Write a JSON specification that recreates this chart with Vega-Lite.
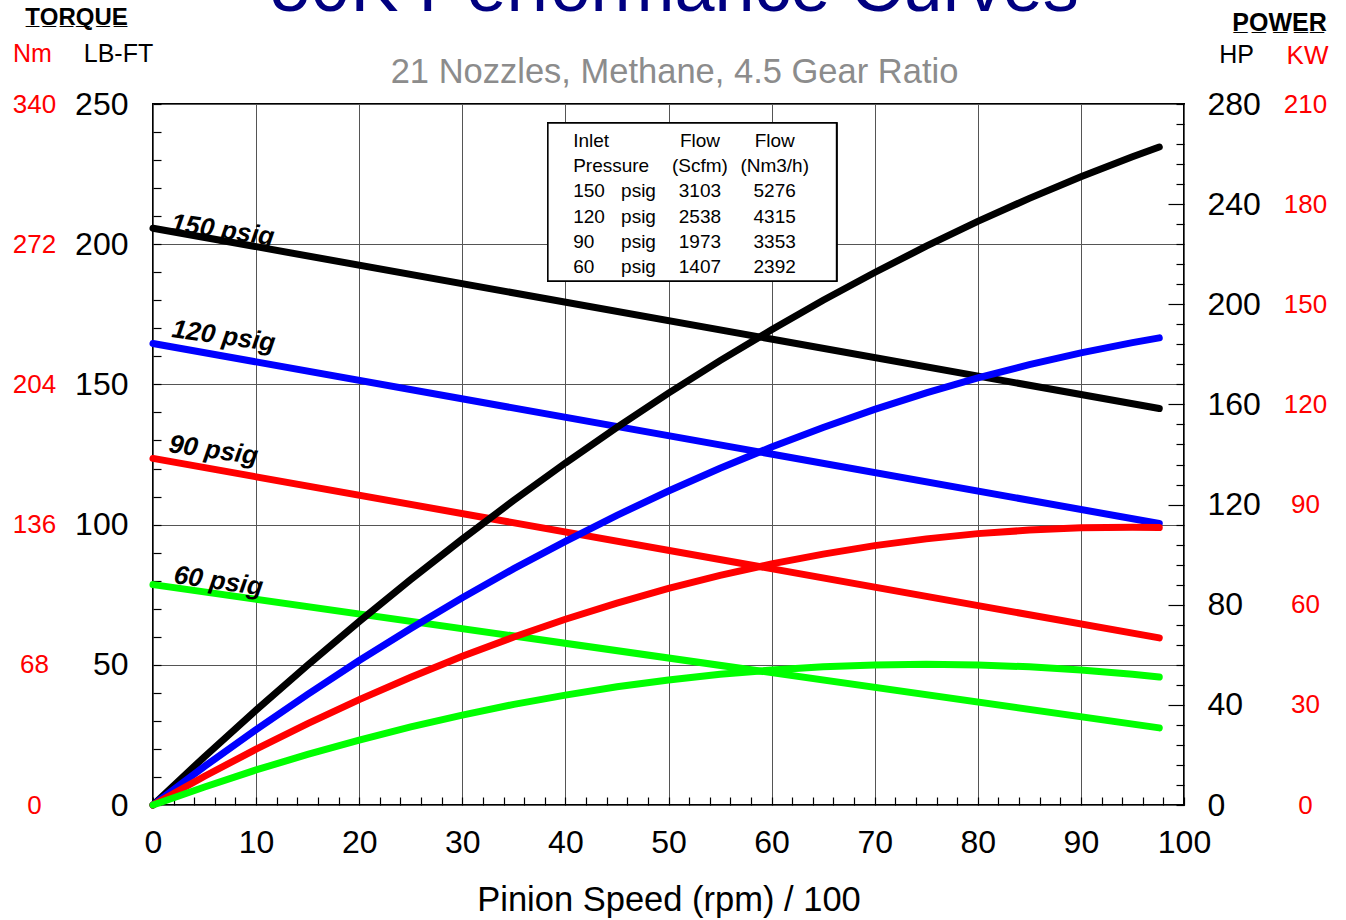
{
  "$schema": "https://vega.github.io/schema/vega-lite/v6.json",
  "width": 1031,
  "height": 701,
  "autosize": {"type": "none"},
  "padding": {"left": 153, "top": 104, "right": 162, "bottom": 115},
  "background": "white",
  "config": {
    "view": {"stroke": "black", "strokeWidth": 2},
    "font": "Liberation Sans",
    "axis": {"labelFont": "Liberation Sans", "titleFont": "Liberation Sans", "labelColor": "black", "titleColor": "black", "titleFontWeight": "normal"}
  },
  "title": {
    "text": "50K Performance Curves",
    "subtitle": "21 Nozzles, Methane, 4.5 Gear Ratio",
    "anchor": "middle",
    "font": "Liberation Sans",
    "fontSize": 72,
    "fontWeight": "normal",
    "color": "#000080",
    "subtitleFont": "Liberation Sans",
    "subtitleFontSize": 34.5,
    "subtitleColor": "#8c8c8c",
    "subtitlePadding": 30,
    "offset": 0,
    "dy": 85,
    "dx": 6
  },
  "datasets": {
    "frame": [{"x": 0, "y": 0}],
    "curves": [
      {"kind": "torque", "psig": "150", "x": 0, "v": 205.7},
      {"kind": "torque", "psig": "150", "x": 97.6, "v": 141.4},
      {"kind": "torque", "psig": "120", "x": 0, "v": 164.6},
      {"kind": "torque", "psig": "120", "x": 97.6, "v": 100.4},
      {"kind": "torque", "psig": "90", "x": 0, "v": 123.6},
      {"kind": "torque", "psig": "90", "x": 97.6, "v": 59.6},
      {"kind": "torque", "psig": "60", "x": 0, "v": 78.6},
      {"kind": "torque", "psig": "60", "x": 97.6, "v": 27.5},
      {"kind": "label", "psig": "150", "x": 1.65, "v": 204.7, "text": "150 psig"},
      {"kind": "label", "psig": "120", "x": 1.75, "v": 166.9, "text": "120 psig"},
      {"kind": "label", "psig": "90", "x": 1.45, "v": 125.9, "text": "90 psig"},
      {"kind": "label", "psig": "60", "x": 1.94, "v": 79.2, "text": "60 psig"},
      {"kind": "power", "psig": "150", "x": 0, "v": 0},
      {"kind": "power", "psig": "150", "x": 5, "v": 19.3},
      {"kind": "power", "psig": "150", "x": 10, "v": 37.9},
      {"kind": "power", "psig": "150", "x": 15, "v": 55.9},
      {"kind": "power", "psig": "150", "x": 20, "v": 73.3},
      {"kind": "power", "psig": "150", "x": 25, "v": 90.1},
      {"kind": "power", "psig": "150", "x": 30, "v": 106.2},
      {"kind": "power", "psig": "150", "x": 35, "v": 121.7},
      {"kind": "power", "psig": "150", "x": 40, "v": 136.6},
      {"kind": "power", "psig": "150", "x": 45, "v": 150.8},
      {"kind": "power", "psig": "150", "x": 50, "v": 164.5},
      {"kind": "power", "psig": "150", "x": 55, "v": 177.5},
      {"kind": "power", "psig": "150", "x": 60, "v": 189.8},
      {"kind": "power", "psig": "150", "x": 65, "v": 201.6},
      {"kind": "power", "psig": "150", "x": 70, "v": 212.7},
      {"kind": "power", "psig": "150", "x": 75, "v": 223.2},
      {"kind": "power", "psig": "150", "x": 80, "v": 233.1},
      {"kind": "power", "psig": "150", "x": 85, "v": 242.3},
      {"kind": "power", "psig": "150", "x": 90, "v": 250.9},
      {"kind": "power", "psig": "150", "x": 95, "v": 258.9},
      {"kind": "power", "psig": "150", "x": 97.6, "v": 262.8},
      {"kind": "power", "psig": "120", "x": 0, "v": 0},
      {"kind": "power", "psig": "120", "x": 5, "v": 15.4},
      {"kind": "power", "psig": "120", "x": 10, "v": 30.1},
      {"kind": "power", "psig": "120", "x": 15, "v": 44.2},
      {"kind": "power", "psig": "120", "x": 20, "v": 57.7},
      {"kind": "power", "psig": "120", "x": 25, "v": 70.5},
      {"kind": "power", "psig": "120", "x": 30, "v": 82.8},
      {"kind": "power", "psig": "120", "x": 35, "v": 94.4},
      {"kind": "power", "psig": "120", "x": 40, "v": 105.3},
      {"kind": "power", "psig": "120", "x": 45, "v": 115.7},
      {"kind": "power", "psig": "120", "x": 50, "v": 125.4},
      {"kind": "power", "psig": "120", "x": 55, "v": 134.5},
      {"kind": "power", "psig": "120", "x": 60, "v": 143.0},
      {"kind": "power", "psig": "120", "x": 65, "v": 150.8},
      {"kind": "power", "psig": "120", "x": 70, "v": 158.0},
      {"kind": "power", "psig": "120", "x": 75, "v": 164.6},
      {"kind": "power", "psig": "120", "x": 80, "v": 170.6},
      {"kind": "power", "psig": "120", "x": 85, "v": 175.9},
      {"kind": "power", "psig": "120", "x": 90, "v": 180.6},
      {"kind": "power", "psig": "120", "x": 95, "v": 184.7},
      {"kind": "power", "psig": "120", "x": 97.6, "v": 186.6},
      {"kind": "power", "psig": "90", "x": 0, "v": 0},
      {"kind": "power", "psig": "90", "x": 5, "v": 11.5},
      {"kind": "power", "psig": "90", "x": 10, "v": 22.3},
      {"kind": "power", "psig": "90", "x": 15, "v": 32.5},
      {"kind": "power", "psig": "90", "x": 20, "v": 42.1},
      {"kind": "power", "psig": "90", "x": 25, "v": 51.0},
      {"kind": "power", "psig": "90", "x": 30, "v": 59.4},
      {"kind": "power", "psig": "90", "x": 35, "v": 67.1},
      {"kind": "power", "psig": "90", "x": 40, "v": 74.2},
      {"kind": "power", "psig": "90", "x": 45, "v": 80.6},
      {"kind": "power", "psig": "90", "x": 50, "v": 86.5},
      {"kind": "power", "psig": "90", "x": 55, "v": 91.7},
      {"kind": "power", "psig": "90", "x": 60, "v": 96.3},
      {"kind": "power", "psig": "90", "x": 65, "v": 100.2},
      {"kind": "power", "psig": "90", "x": 70, "v": 103.6},
      {"kind": "power", "psig": "90", "x": 75, "v": 106.3},
      {"kind": "power", "psig": "90", "x": 80, "v": 108.4},
      {"kind": "power", "psig": "90", "x": 85, "v": 109.8},
      {"kind": "power", "psig": "90", "x": 90, "v": 110.7},
      {"kind": "power", "psig": "90", "x": 95, "v": 110.9},
      {"kind": "power", "psig": "90", "x": 97.6, "v": 110.8},
      {"kind": "power", "psig": "60", "x": 0, "v": 0},
      {"kind": "power", "psig": "60", "x": 5, "v": 7.2},
      {"kind": "power", "psig": "60", "x": 10, "v": 14.0},
      {"kind": "power", "psig": "60", "x": 15, "v": 20.2},
      {"kind": "power", "psig": "60", "x": 20, "v": 25.9},
      {"kind": "power", "psig": "60", "x": 25, "v": 31.2},
      {"kind": "power", "psig": "60", "x": 30, "v": 35.9},
      {"kind": "power", "psig": "60", "x": 35, "v": 40.2},
      {"kind": "power", "psig": "60", "x": 40, "v": 43.9},
      {"kind": "power", "psig": "60", "x": 45, "v": 47.2},
      {"kind": "power", "psig": "60", "x": 50, "v": 49.9},
      {"kind": "power", "psig": "60", "x": 55, "v": 52.2},
      {"kind": "power", "psig": "60", "x": 60, "v": 53.9},
      {"kind": "power", "psig": "60", "x": 65, "v": 55.2},
      {"kind": "power", "psig": "60", "x": 70, "v": 55.9},
      {"kind": "power", "psig": "60", "x": 75, "v": 56.2},
      {"kind": "power", "psig": "60", "x": 80, "v": 55.9},
      {"kind": "power", "psig": "60", "x": 85, "v": 55.2},
      {"kind": "power", "psig": "60", "x": 90, "v": 53.9},
      {"kind": "power", "psig": "60", "x": 95, "v": 52.2},
      {"kind": "power", "psig": "60", "x": 97.6, "v": 51.1}
    ],
    "table": [
      {"row": 1, "c1": "Inlet", "c2": "", "c3": "Flow", "c4": "Flow"},
      {"row": 2, "c1": "Pressure", "c2": "", "c3": "(Scfm)", "c4": "(Nm3/h)"},
      {"row": 3, "c1": "\u00a0150", "c2": "psig", "c3": "3103", "c4": "5276"},
      {"row": 4, "c1": "\u00a0120", "c2": "psig", "c3": "2538", "c4": "4315"},
      {"row": 5, "c1": "\u00a090", "c2": "psig", "c3": "1973", "c4": "3353"},
      {"row": 6, "c1": "\u00a060", "c2": "psig", "c3": "1407", "c4": "2392"}
    ]
  },
  "layer": [
    {
      "data": {"name": "curves"},
      "encoding": {
        "x": {
          "field": "x", "type": "quantitative",
          "scale": {"domain": [0, 100], "nice": false, "zero": false},
          "axis": {
            "values": [0, 10, 20, 30, 40, 50, 60, 70, 80, 90, 100],
            "grid": true, "gridColor": "#555555", "gridWidth": 1, "gridOpacity": 1,
            "ticks": false, "domain": false,
            "labelFontSize": 32, "labelPadding": 22, "labelFlush": false, "labelOverlap": false,
            "title": "Pinion Speed (rpm) / 100", "titleFontSize": 34.5, "titlePadding": 25
          }
        },
        "y": {
          "field": "v", "type": "quantitative",
          "scale": {"domain": [0, 250], "nice": false},
          "axis": {
            "values": [0, 50, 100, 150, 200, 250],
            "grid": true, "gridColor": "#555555", "gridWidth": 1, "gridOpacity": 1,
            "ticks": false, "domain": false,
            "labelFontSize": 32, "labelPadding": 25, "labelOverlap": false, "labelFlush": false,
            "title": "LB-FT", "titleAngle": 0, "titleX": -35, "titleY": -43,
            "titleAlign": "center", "titleBaseline": "alphabetic", "titleFontSize": 25
          }
        }
      },
      "layer": [
        {
          "transform": [{"filter": "datum.kind === 'torque'"}],
          "mark": {"type": "line", "strokeWidth": 7, "strokeCap": "round"},
          "encoding": {
            "color": {"field": "psig", "type": "nominal",
              "scale": {"domain": ["150", "120", "90", "60"], "range": ["#000000", "#0000ff", "#ff0000", "#00ff00"]},
              "legend": null}
          }
        },
        {
          "transform": [{"filter": "datum.kind === 'label'"}],
          "mark": {"type": "text", "font": "Liberation Sans", "fontSize": 26, "fontWeight": "bold", "fontStyle": "italic",
            "align": "left", "baseline": "alphabetic", "angle": 8, "color": "black"},
          "encoding": {"text": {"field": "text"}}
        }
      ]
    },
    {
      "data": {"name": "curves"},
      "transform": [{"filter": "datum.kind === 'power'"}],
      "mark": {"type": "line", "strokeWidth": 7, "strokeCap": "round"},
      "encoding": {
        "x": {
          "field": "x", "type": "quantitative",
          "scale": {"domain": [0, 100], "nice": false, "zero": false},
          "axis": {
            "orient": "bottom",
            "values": [0, 2, 4, 6, 8, 10, 12, 14, 16, 18, 20, 22, 24, 26, 28, 30, 32, 34, 36, 38, 40, 42, 44, 46, 48, 50, 52, 54, 56, 58, 60, 62, 64, 66, 68, 70, 72, 74, 76, 78, 80, 82, 84, 86, 88, 90, 92, 94, 96, 98, 100],
            "tickSize": -8, "tickColor": "black", "tickWidth": 1.2,
            "labels": false, "domain": false, "grid": false, "title": null
          }
        },
        "y": {
          "field": "v", "type": "quantitative",
          "scale": {"domain": [0, 280], "nice": false},
          "axis": {
            "orient": "right",
            "values": [0, 40, 80, 120, 160, 200, 240, 280],
            "ticks": false, "domain": false, "grid": false,
            "labelFontSize": 32, "labelPadding": 23, "labelAlign": "left", "labelOverlap": false, "labelFlush": false,
            "title": "HP", "titleAngle": 0, "titleX": 52, "titleY": -42,
            "titleAlign": "center", "titleBaseline": "alphabetic", "titleFontSize": 25
          }
        },
        "color": {"field": "psig", "type": "nominal", "legend": null}
      }
    },
    {
      "data": {"name": "table"},
      "encoding": {
        "y": {"field": "row", "type": "quantitative", "scale": {"domain": [-0.7, 27.1], "nice": false, "zero": false, "reverse": true}, "axis": null}
      },
      "layer": [
        {
          "mark": {"type": "rect", "fill": "white", "stroke": "black", "strokeWidth": 1.5},
          "encoding": {
            "x": {"datum": 38.3, "type": "quantitative", "scale": {"domain": [0, 100], "nice": false, "zero": false}, "axis": null},
            "x2": {"datum": 66.3},
            "y": {"datum": 0.05, "type": "quantitative"},
            "y2": {"datum": 6.32}
          }
        },
        {
          "mark": {"type": "text", "font": "Liberation Sans", "fontSize": 19, "align": "left", "baseline": "alphabetic", "color": "black"},
          "encoding": {"x": {"datum": 40.75, "type": "quantitative"}, "text": {"field": "c1"}}
        },
        {
          "mark": {"type": "text", "font": "Liberation Sans", "fontSize": 19, "align": "left", "baseline": "alphabetic", "color": "black"},
          "encoding": {"x": {"datum": 45.4, "type": "quantitative"}, "text": {"field": "c2"}}
        },
        {
          "mark": {"type": "text", "font": "Liberation Sans", "fontSize": 19, "align": "center", "baseline": "alphabetic", "color": "black"},
          "encoding": {"x": {"datum": 53.05, "type": "quantitative"}, "text": {"field": "c3"}}
        },
        {
          "mark": {"type": "text", "font": "Liberation Sans", "fontSize": 19, "align": "center", "baseline": "alphabetic", "color": "black"},
          "encoding": {"x": {"datum": 60.3, "type": "quantitative"}, "text": {"field": "c4"}}
        }
      ]
    },
    {
      "data": {"name": "frame"},
      "mark": {"type": "point", "opacity": 0},
      "encoding": {
        "x": {
          "field": "x", "type": "quantitative",
          "scale": {"domain": [0, 100], "nice": false, "zero": false},
          "axis": {
            "orient": "top", "labels": false, "ticks": false, "domain": false, "grid": false,
            "title": "T̲O̲R̲Q̲U̲E̲", "titleAngle": 0, "titleX": -77, "titleY": -80,
            "titleAlign": "center", "titleBaseline": "alphabetic", "titleFontSize": 24, "titleFontWeight": "bold"
          }
        },
        "y": {
          "field": "y", "type": "quantitative",
          "scale": {"domain": [0, 340], "nice": false},
          "axis": {
            "orient": "left", "offset": 119,
            "values": [0, 68, 136, 204, 272, 340],
            "ticks": false, "tickSize": 0, "domain": false, "grid": false,
            "labelFontSize": 26, "labelPadding": 0, "labelAlign": "center", "labelColor": "#ff0000", "labelOverlap": false, "labelFlush": false,
            "title": "Nm", "titleColor": "#ff0000", "titleAngle": 0, "titleX": -2, "titleY": -43,
            "titleAlign": "center", "titleBaseline": "alphabetic", "titleFontSize": 25
          }
        }
      }
    },
    {
      "data": {"name": "frame"},
      "mark": {"type": "point", "opacity": 0},
      "encoding": {
        "x": {
          "field": "x", "type": "quantitative",
          "scale": {"domain": [0, 100], "nice": false, "zero": false},
          "axis": {
            "orient": "top", "labels": false, "ticks": false, "domain": false, "grid": false,
            "title": "P̲O̲W̲E̲R̲", "titleAngle": 0, "titleX": 1126, "titleY": -74,
            "titleAlign": "center", "titleBaseline": "alphabetic", "titleFontSize": 25, "titleFontWeight": "bold"
          }
        },
        "y": {
          "field": "y", "type": "quantitative",
          "scale": {"domain": [0, 210], "nice": false},
          "axis": {
            "orient": "right", "offset": 121,
            "values": [0, 30, 60, 90, 120, 150, 180, 210],
            "ticks": false, "tickSize": 0, "domain": false, "grid": false,
            "labelFontSize": 26, "labelPadding": 0, "labelAlign": "center", "labelColor": "#ff0000", "labelOverlap": false, "labelFlush": false,
            "title": "KW", "titleColor": "#ff0000", "titleAngle": 0, "titleX": 2, "titleY": -41,
            "titleAlign": "center", "titleBaseline": "alphabetic", "titleFontSize": 26
          }
        }
      }
    },
    {
      "data": {"name": "frame"},
      "mark": {"type": "point", "opacity": 0},
      "encoding": {
        "x": {"field": "x", "type": "quantitative", "scale": {"domain": [0, 100], "nice": false, "zero": false}, "axis": null},
        "y": {
          "field": "y", "type": "quantitative",
          "scale": {"domain": [0, 250], "nice": false},
          "axis": {
            "orient": "left",
            "values": [0, 10, 20, 30, 40, 50, 60, 70, 80, 90, 100, 110, 120, 130, 140, 150, 160, 170, 180, 190, 200, 210, 220, 230, 240, 250],
            "tickSize": -8, "tickColor": "black", "tickWidth": 1.2,
            "labels": false, "domain": false, "grid": false, "title": null
          }
        }
      }
    },
    {
      "data": {"name": "frame"},
      "mark": {"type": "point", "opacity": 0},
      "encoding": {
        "x": {"field": "x", "type": "quantitative", "scale": {"domain": [0, 100], "nice": false, "zero": false}, "axis": null},
        "y": {
          "field": "y", "type": "quantitative",
          "scale": {"domain": [0, 280], "nice": false},
          "axis": {
            "orient": "right",
            "values": [0, 8, 16, 24, 32, 48, 56, 64, 72, 88, 96, 104, 112, 128, 136, 144, 152, 168, 176, 184, 192, 208, 216, 224, 232, 248, 256, 264, 272, 280],
            "tickSize": -8, "tickColor": "black", "tickWidth": 1.2,
            "labels": false, "domain": false, "grid": false, "title": null
          }
        }
      }
    },
    {
      "data": {"name": "frame"},
      "mark": {"type": "point", "opacity": 0},
      "encoding": {
        "x": {"field": "x", "type": "quantitative", "scale": {"domain": [0, 100], "nice": false, "zero": false}, "axis": null},
        "y": {
          "field": "y", "type": "quantitative",
          "scale": {"domain": [0, 280], "nice": false},
          "axis": {
            "orient": "right",
            "values": [40, 80, 120, 160, 200, 240],
            "tickSize": -16, "tickColor": "black", "tickWidth": 1.2,
            "labels": false, "domain": false, "grid": false, "title": null
          }
        }
      }
    }
  ],
  "resolve": {"scale": {"x": "independent", "y": "independent"}}
}
